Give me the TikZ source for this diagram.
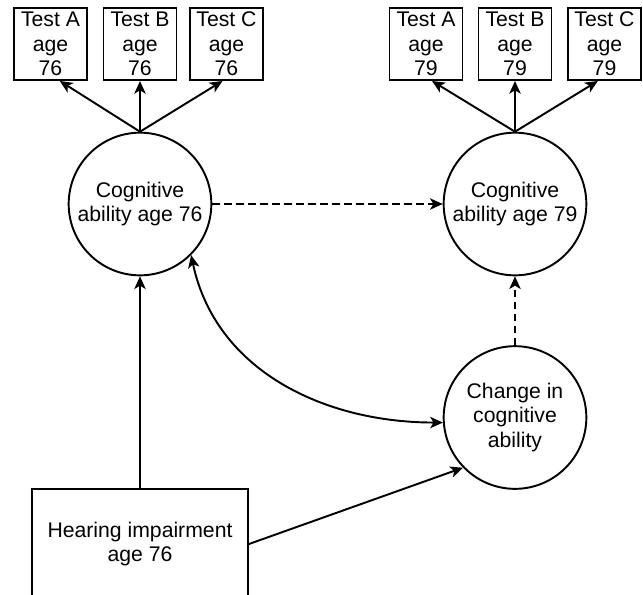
\documentclass[tikz,border=0pt]{standalone}
\usepackage{fontspec}
\setmainfont{Liberation Sans}
\usetikzlibrary{arrows.meta}

\begin{document}
\begin{tikzpicture}[x=0.75pt,y=-0.75pt,line width=1.45pt,
  font=\fontsize{15.9}{18.5}\selectfont,
  testbox/.style={draw,align=center,inner sep=0pt,minimum width=54.75pt,minimum height=54pt},
  latent/.style={draw,circle,align=center,inner sep=0pt,minimum size=107pt},
  arr/.style={-{Stealth[length=9.5pt,width=8.5pt,inset=2.5pt]}},
  twoarr/.style={{Stealth[length=9.5pt,width=8.5pt,inset=2.5pt]}-{Stealth[length=9.5pt,width=8.5pt,inset=2.5pt]}},
  dasharr/.style={arr,dash pattern=on 5.5pt off 3.5pt}]
\useasboundingbox (0,0) rectangle (643,594);
% tests
\node[testbox] (ta76) at (50.5,44) {Test A\\age\\76};
\node[testbox] (tb76) at (140,44) {Test B\\age\\76};
\node[testbox] (tc76) at (226.5,44) {Test C\\age\\76};
\node[testbox] (ta79) at (426,44) {Test A\\age\\79};
\node[testbox] (tb79) at (515,44) {Test B\\age\\79};
\node[testbox] (tc79) at (604.5,44) {Test C\\age\\79};
% latent variables
\node[latent] (cog76) at (140,204) {Cognitive\\ability age 76};
\node[latent] (cog79) at (515,204) {Cognitive\\ability age 79};
\node[latent] (chg) at (515,417.5) {Change in\\cognitive\\ability};
\node[draw,align=center,minimum width=162pt,minimum height=82.5pt] (hear) at (140,544) {Hearing impairment\\age 76};
% loadings
\draw[arr] (cog76.north) -- ([xshift=7pt]ta76.south);
\draw[arr] (cog76.north) -- (tb76.south);
\draw[arr] (cog76.north) -- ([xshift=-3pt]tc76.south);
\draw[arr] (cog79.north) -- ([xshift=4.5pt]ta79.south);
\draw[arr] (cog79.north) -- (tb79.south);
\draw[arr] (cog79.north) -- ([xshift=-5pt]tc79.south);
% paths
\draw[dasharr] (cog76.east) -- (cog79.west);
\draw[dasharr] (chg.north) -- (cog79.south);
\draw[arr] (hear.north) -- (cog76.south);
\draw[arr] (hear.east) -- (chg.224);
\draw[twoarr] (cog76.-45) to[out=-78,in=180] (chg.184);
\end{tikzpicture}
\end{document}
